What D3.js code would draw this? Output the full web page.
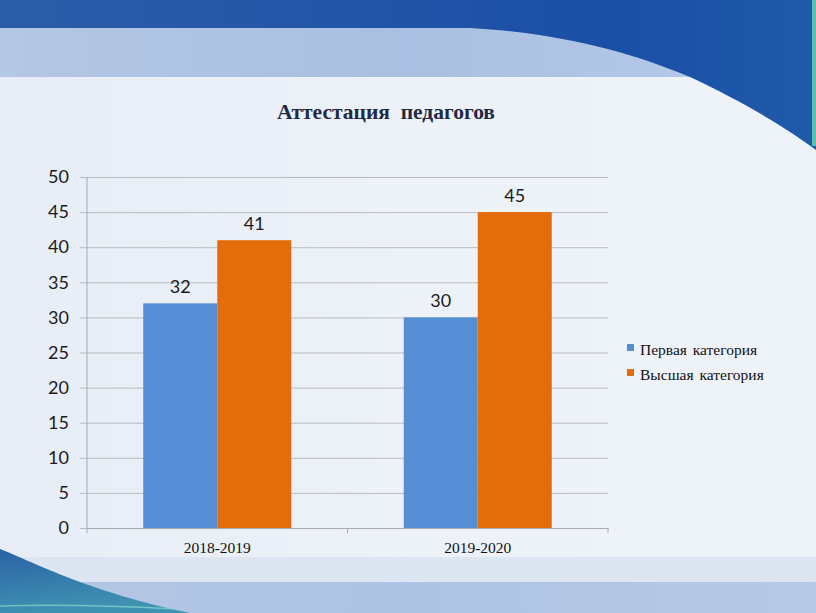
<!DOCTYPE html>
<html><head><meta charset="utf-8">
<script src="https://cdn.jsdelivr.net/npm/d3@7"></script>
<style>html,body{margin:0;padding:0;background:#eaf0f8;}svg{display:block;}</style>
</head><body>
<script>
const categories = ["2018-2019", "2019-2020"];
const seriesNames = ["Первая категория", "Высшая категория"];
const firstCategory = [32, 30];
const highestCategory = [41, 45];
const yTicks = [0, 5, 10, 15, 20, 25, 30, 35, 40, 45, 50];
const title = "Аттестация  педагогов";
const colors = ["#558ed5", "#e46c0a"];

(function () {
const W = 816, H = 613;
const svg = d3.select("body").append("svg").attr("width", W).attr("height", H);
const defs = svg.append("defs");

function lg(id, stops, x2 = 1, y2 = 0) {
  const g = defs.append("linearGradient").attr("id", id).attr("x1", 0).attr("y1", 0).attr("x2", x2).attr("y2", y2);
  stops.forEach(s => g.append("stop").attr("offset", s[0]).attr("stop-color", s[1]));
}
lg("bgMain", [[0, "#e7edf6"], [0.5, "#edf2f9"], [1, "#eef3fa"]]);
lg("topBand", [[0, "#2c5da9"], [0.45, "#2255a8"], [0.75, "#1a4fa6"], [1, "#1f5aa9"]]);
lg("lightBand", [[0, "#b4c7e4"], [0.5, "#a9c0e2"], [1, "#b8cbe8"]]);
lg("botBand", [[0, "#b3c6e4"], [0.5, "#aec3e3"], [1, "#b7c9e6"]]);
lg("botSwoosh", [[0, "#2b62a6"], [1, "#3f93b2"]], 0.3, 1);

// background
svg.append("rect").attr("width", W).attr("height", H).attr("fill", "url(#bgMain)");
svg.append("rect").attr("x", 0).attr("y", 28).attr("width", W).attr("height", 49).attr("fill", "url(#lightBand)");
svg.append("path").attr("d", "M0,0 L816,0 L816,150 C790,130 740,100 690,77 C630,52 560,33 470,28 L0,28 Z").attr("fill", "url(#topBand)");
svg.append("rect").attr("x", 812).attr("y", 0).attr("width", 4).attr("height", 146).attr("fill", "#5cbfae");
svg.append("rect").attr("x", 0).attr("y", 557).attr("width", W).attr("height", 25).attr("fill", "#dce5f1");
svg.append("rect").attr("x", 0).attr("y", 582).attr("width", W).attr("height", 31).attr("fill", "url(#botBand)");
svg.append("path").attr("d", "M0,549 C40,565 90,592 190,613 L0,613 Z").attr("fill", "url(#botSwoosh)");
svg.append("path").attr("d", "M0,606 C60,604 120,606 175,609").attr("stroke", "#8fd6d0").attr("stroke-width", 1.5).attr("fill", "none").attr("opacity", 0.7);

// title
svg.append("text").attr("x", 386).attr("y", 119).attr("text-anchor", "middle")
  .attr("font-family", "'Liberation Serif', 'Times New Roman', serif").attr("font-weight", "bold")
  .attr("font-size", 21.5).attr("fill", "#1e2a45").attr("xml:space", "preserve").text(title);

// scales
const pLeft = 87, pRight = 608, pTop = 177, pBottom = 528;
const y = d3.scaleLinear().domain([0, 50]).range([pBottom, pTop]);
const x0 = d3.scaleBand().domain(categories).range([pLeft, pRight]).padding(0);
const x1 = d3.scaleBand().domain(seriesNames).range([0, x0.bandwidth()]).paddingInner(0).paddingOuter(0.76);

const tickFont = "Lato, 'Open Sans', sans-serif";

// gridlines
const yAxis = d3.axisLeft(y).tickValues(yTicks).tickSize(-(pRight - pLeft)).tickPadding(18).tickFormat(d3.format("d"));
const gy = svg.append("g").attr("transform", `translate(${pLeft},0)`).call(yAxis);
gy.select(".domain").remove();
gy.selectAll(".tick line").attr("stroke", "#b9bcc2").attr("stroke-width", 1).attr("x1", -7);
gy.selectAll(".tick text").attr("font-family", tickFont).attr("font-size", 18).attr("fill", "#1b1b1b");

// vertical axis line
svg.append("line").attr("x1", pLeft).attr("x2", pLeft).attr("y1", pTop).attr("y2", pBottom).attr("stroke", "#a7aab0");

// bars
const data = categories.map((c, i) => ({ cat: c, vals: [firstCategory[i], highestCategory[i]] }));
const groups = svg.append("g").selectAll("g").data(data).join("g").attr("transform", d => `translate(${x0(d.cat)},0)`);
groups.selectAll("rect").data(d => d.vals.map((v, j) => ({ s: seriesNames[j], v, j }))).join("rect")
  .attr("x", d => x1(d.s)).attr("width", x1.bandwidth())
  .attr("y", d => y(d.v)).attr("height", d => pBottom - y(d.v)).attr("fill", d => colors[d.j]);
groups.selectAll("text").data(d => d.vals.map((v, j) => ({ s: seriesNames[j], v, j }))).join("text")
  .attr("x", d => x1(d.s) + x1.bandwidth() / 2).attr("y", d => y(d.v) - 10)
  .attr("text-anchor", "middle").attr("font-family", tickFont).attr("font-size", 18).attr("fill", "#1b1b1b").text(d => d.v);

// x axis
const xAxis = d3.axisBottom(x0).tickSize(0).tickPadding(14);
const gx = svg.append("g").attr("transform", `translate(0,${pBottom})`).call(xAxis);
gx.select(".domain").attr("stroke", "#a7aab0");
gx.selectAll(".tick text").attr("font-family", "'Liberation Serif', 'Times New Roman', serif").attr("font-size", 15.5).attr("fill", "#111");
[pLeft, pLeft + x0.step(), pRight].forEach(px => {
  svg.append("line").attr("x1", px).attr("x2", px).attr("y1", pBottom).attr("y2", pBottom + 5).attr("stroke", "#a7aab0");
});

// legend
const legend = svg.append("g").attr("transform", "translate(627,344)");
seriesNames.forEach((n, i) => {
  const row = legend.append("g").attr("transform", `translate(0,${i * 25})`);
  row.append("rect").attr("width", 7).attr("height", 7).attr("fill", colors[i]);
  row.append("text").attr("x", 13).attr("y", 11).attr("font-family", "'Liberation Serif', 'Times New Roman', serif")
    .attr("font-size", 15.5).attr("fill", "#111").attr("word-spacing", 2).text(n);
});
})();
</script>
</body></html>
